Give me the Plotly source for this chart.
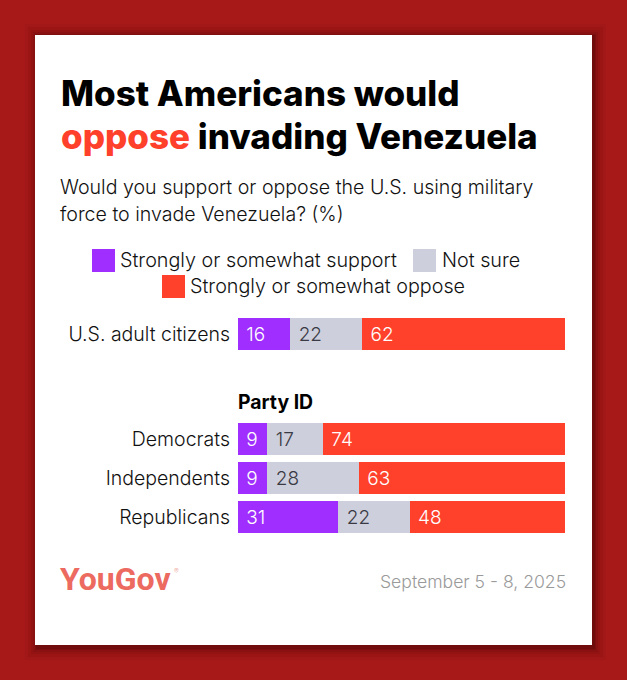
import plotly.graph_objects as go

# values
overall_group = ["U.S. adult citizens"]
overall_support = [16]
overall_not_sure = [22]
overall_oppose = [62]

party_groups = ["Democrats", "Independents", "Republicans"]
party_support = [9, 9, 31]
party_not_sure = [17, 28, 22]
party_oppose = [74, 63, 48]

series_names = ["Strongly or somewhat support", "Not sure", "Strongly or somewhat oppose"]
series_colors = ["#A02FFF", "#CDCFDC", "#FF412C"]
label_colors = ["#FFFFFF", "#3A3A44", "#FFFFFF"]

W = 627
H = 680
FONT = "Inter"

def px(x):
    return x / W

def py(y):
    return 1 - y / H

def rect(x0, y0, x1, y1, color):
    return dict(type="rect", xref="paper", yref="paper", x0=px(x0), x1=px(x1),
                y0=py(y1), y1=py(y0), fillcolor=color, line_width=0, layer="below")

def text(x, y, s, size, color="#111111", anchor="left", weight=350, family=FONT):
    return dict(xref="paper", yref="paper", x=px(x), y=py(y), text=s, showarrow=False,
                xanchor=anchor, yanchor="middle", align=anchor,
                font=dict(family=family, size=size, color=color, weight=weight))

fig = go.Figure()

def add_bars(groups, rows, yaxis):
    for name, vals, color, lab in zip(series_names, rows, series_colors, label_colors):
        fig.add_trace(go.Bar(
            y=groups, x=vals, name=name, orientation="h", yaxis=yaxis,
            marker=dict(color=color, line_width=0),
            text=["\u00a0" + str(v) for v in vals], textposition="inside",
            insidetextanchor="start", textangle=0, constraintext="none",
            textfont=dict(family=FONT, size=19, color=lab, weight=300),
            showlegend=False, hoverinfo="skip",
        ))

add_bars(overall_group, [overall_support, overall_not_sure, overall_oppose], "y")
add_bars(party_groups, [party_support, party_not_sure, party_oppose], "y2")

# card shadow, darkest near the edge
shapes = []
for spread, alpha in [(12, 0.04), (9, 0.05), (6, 0.07), (4, 0.09), (2, 0.12), (1, 0.14)]:
    shapes.append(rect(35 - spread + 2, 35 - spread + 1, 592 + spread + 2, 645 + spread + 3,
                       f"rgba(40,0,0,{alpha})"))
shapes.append(rect(35, 35, 592, 645, "#FFFFFF"))

# legend swatches
shapes.append(rect(92, 249, 115, 272, series_colors[0]))
shapes.append(rect(413, 249, 436, 272, series_colors[1]))
shapes.append(rect(162, 275, 185, 298, series_colors[2]))

annotations = [
    text(59, 93, "Most Americans would", 35, "#000000", weight=800),
    text(59, 136, f'<span style="color:{series_colors[2]}">oppose</span> invading Venezuela', 35,
         "#000000", weight=800),
    text(58, 187, "Would you support or oppose the U.S. using military", 19.6),
    text(58, 214, "force to invade Venezuela? (%)", 19.6),
    text(118, 260, series_names[0], 19.75),
    text(440, 260, series_names[1], 19.75),
    text(188, 286, series_names[2], 19.75),
    text(236, 402, "<b>Party ID</b>", 19.4, "#000000", weight=800),
    text(58, 579, "YouGov", 32, "#EC6A60", weight=700, family="Roboto"),
    text(176, 571, "®", 7, "#F0A8A2", anchor="center"),
    text(568, 581, "September 5 - 8, 2025", 17.6, "#9A9A9A", anchor="right"),
]

fig.update_layout(
    width=W,
    height=H,
    margin=dict(l=0, r=0, t=0, b=0),
    paper_bgcolor="#A71818",
    plot_bgcolor="rgba(0,0,0,0)",
    barmode="stack",
    barnorm="percent",
    bargap=0.16,
    showlegend=False,
    shapes=shapes,
    annotations=annotations,
    xaxis=dict(domain=[px(238), px(565)], range=[0, 100], visible=False, anchor="y"),
    yaxis=dict(domain=[py(353.5), py(314.5)], anchor="x", showline=False, showgrid=False,
               ticks="", ticklabelstandoff=7,
               tickfont=dict(family=FONT, size=19.5, color="#111111", weight=350)),
    yaxis2=dict(domain=[py(536.5), py(419.5)], anchor="x", autorange="reversed", showline=False,
                showgrid=False, ticks="", ticklabelstandoff=7,
                tickfont=dict(family=FONT, size=19.5, color="#111111", weight=350)),
)

fig.write_html("out.html", config={"displayModeBar": False},
               post_script="document.body.style.margin='0';")
